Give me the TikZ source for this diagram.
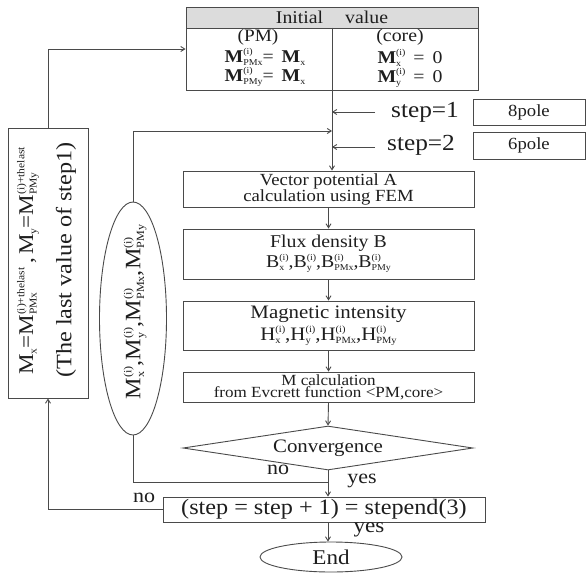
\documentclass[tikz,border=0pt]{standalone}
\usepackage{fontspec}
\setmainfont{Liberation Serif}[FakeStretch=1.1]
\usetikzlibrary{arrows.meta,shapes.geometric}
\definecolor{ln}{HTML}{4A4A4A}
\definecolor{tx}{HTML}{1E1E1E}
\definecolor{hd}{HTML}{DCDCDC}
\newcommand\fs[1]{\fontsize{#1}{#1}\selectfont}
\makeatletter
\newcommand\SupSb[3][0.5]{%
  \begingroup
  \dimen2=\f@size pt\relax
  \dimen0=#1\dimen2
  \fontsize{\dimen0}{\dimen0}\selectfont
  \setbox0\hbox{#2}\setbox2\hbox{#3}%
  \ifdim\wd0>\wd2 \dimen4=\wd0 \else \dimen4=\wd2 \fi
  \makebox[\dimen4][l]{\rlap{\raisebox{0.42\dimen2}{\copy0}}\raisebox{-0.16\dimen2}{\copy2}}%
  \endgroup}
\makeatother
\tikzset{
  box/.style={draw=ln, line width=0.9pt, rectangle, inner sep=0pt, align=center, text=tx},
  conn/.style={draw=ln, line width=0.9pt},
  arr/.style={conn, -{Straight Barb[length=4pt,width=5pt]}},
  lbl/.style={text=tx, inner sep=0pt}
}
\begin{document}
\begin{tikzpicture}[x=1pt,y=1pt]
\useasboundingbox (0,0) rectangle (586,-573);
\fill[white] (0,0) rectangle (586,-573);

% initial value box
\node[box,fill=hd,minimum width=292pt,minimum height=21pt] (hdr) at (332,-17.5) {\fs{18}Initial\hspace{22pt}value};
\node[box,minimum width=292pt,minimum height=62pt] (initbody) at (332,-59) {};
\draw[conn] (initbody.north) -- (initbody.south);
\node[lbl] (pm) at (258,-37) {\fs{17.5}(PM)};
\node[lbl] (pmx) at (265,-57) {\fs{18}\textbf{M}\SupSb{(i)}{PMx}=\, \textbf{M}\SupSb{}{x}};
\node[lbl] (pmy) at (265,-77) {\fs{18}\textbf{M}\SupSb{(i)}{PMy}=\, \textbf{M}\SupSb{}{x}};
\node[lbl] (core) at (400,-37) {\fs{18}(core)};
\node[lbl] (cx) at (410,-58) {\fs{18}\textbf{M}\SupSb{(i)}{x} \,=\, 0};
\node[lbl] (cy) at (410,-78) {\fs{18}\textbf{M}\SupSb{(i)}{y} \,=\, 0};

% step labels and pole boxes
\node[lbl] (st1) at (425,-112) {\fs{23}step=1};
\node[lbl] (st2) at (421,-145) {\fs{23}step=2};
\coordinate (st1a) at (375,-112);
\coordinate (st2a) at (375,-147);
\node[box,minimum width=112pt,minimum height=26pt] (p8) at (529,-112) {\fs{17}8pole};
\node[box,minimum width=112pt,minimum height=27pt] (p6) at (529,-145.5) {\fs{17}6pole};

% main column
\node[box,minimum width=291pt,minimum height=36pt,font={\fontsize{17}{16}\selectfont\lineskiplimit=-50pt}] (vec) at (328.5,-189)
  {Vector potential A\\calculation using FEM};
\node[box,minimum width=291pt,minimum height=50pt,font={\fontsize{18}{20}\selectfont\lineskiplimit=-50pt}] (flux) at (328.5,-254)
  {Flux density B\\B\SupSb{(i)}{x},B\SupSb{(i)}{y},B\SupSb{(i)}{PMx},B\SupSb{(i)}{PMy}};
\node[box,minimum width=291pt,minimum height=49pt,font={\fontsize{19}{22}\selectfont\lineskiplimit=-50pt}] (mag) at (328.5,-325.5)
  {Magnetic intensity\\H\SupSb{(i)}{x},H\SupSb{(i)}{y},H\SupSb{(i)}{PMx},H\SupSb{(i)}{PMy}};
\node[box,minimum width=291pt,minimum height=30pt,font={\fontsize{15.5}{12}\selectfont\lineskiplimit=-50pt}] (mcalc) at (328.5,-387)
  {M calculation\\from Evcrett function <PM,core>};
\node[draw=ln,line width=0.9pt,diamond,aspect=6.59,minimum width=290pt,minimum height=44pt,inner sep=0pt,text=tx] (conv) at (328,-448) {\fs{19}Convergence};
\node[box,minimum width=322pt,minimum height=25pt] (stepb) at (324,-509.5) {\fs{22}(step = step + 1) = stepend(3)};
\node[draw=ln,line width=0.9pt,ellipse,minimum width=142pt,minimum height=30pt,inner sep=0pt,text=tx] (endn) at (331,-557) {\fs{21}End};

% left box
\node[box,minimum width=80pt,minimum height=270pt] (lbox) at (48,-263) {};
\node[lbl,rotate=90] (ltext1) at (28,-261) {\fs{21}M\SupSb{}{x}=M\SupSb{(i)+thelast}{PMx}\,,\,M\SupSb{}{y}=M\SupSb{(i)+thelast}{PMy}};
\node[lbl,rotate=90] (ltext2) at (66,-260) {\fs{22}(The last value of step1)};

% ellipse
\node[draw=ln,line width=0.9pt,ellipse,minimum width=67pt,minimum height=233pt,inner sep=0pt] (mell) at (133,-318.5) {};
\node[lbl,rotate=90] (melltext) at (135,-312) {\fs{22}M\SupSb{(i)}{x},M\SupSb{(i)}{y},M\SupSb{(i)}{PMx},M\SupSb{(i)}{PMy}};

% connectors
\coordinate (loopin) at (332,-131);
\draw[arr] (initbody.south) -- (initbody.south |- vec.north);
\draw[arr] (st1a) -- (st1a -| initbody.south);
\draw[arr] (st2a) -- (st2a -| initbody.south);
\draw[arr] (mell.north) |- (loopin);
\draw[arr] (lbox.north) |- ([yshift=10pt]initbody.west);
\draw[arr] (vec.south) -- (flux.north);
\draw[arr] (flux.south) -- (mag.north);
\draw[arr] (mag.south) -- (mcalc.north);
\draw[arr] (mcalc.south) -- (conv.north);
\draw[arr] (conv.south) -- (conv.south |- stepb.north);
\path (conv.south) ++(0,-12) coordinate (nojoin);
\draw[conn] (mell.south) |- (nojoin);
\draw[arr] (conv.south |- stepb.south) -- (conv.south |- endn.north);
\draw[arr] (stepb.west) -| (lbox.south);

% branch labels
\node[lbl] (no1) at (278,-470) {\fs{20}no};
\node[lbl] (yes1) at (362,-481) {\fs{20}yes};
\node[lbl] (no2) at (144,-498) {\fs{20}no};
\node[lbl] (yes2) at (369,-530) {\fs{21}yes};
\end{tikzpicture}
\end{document}
